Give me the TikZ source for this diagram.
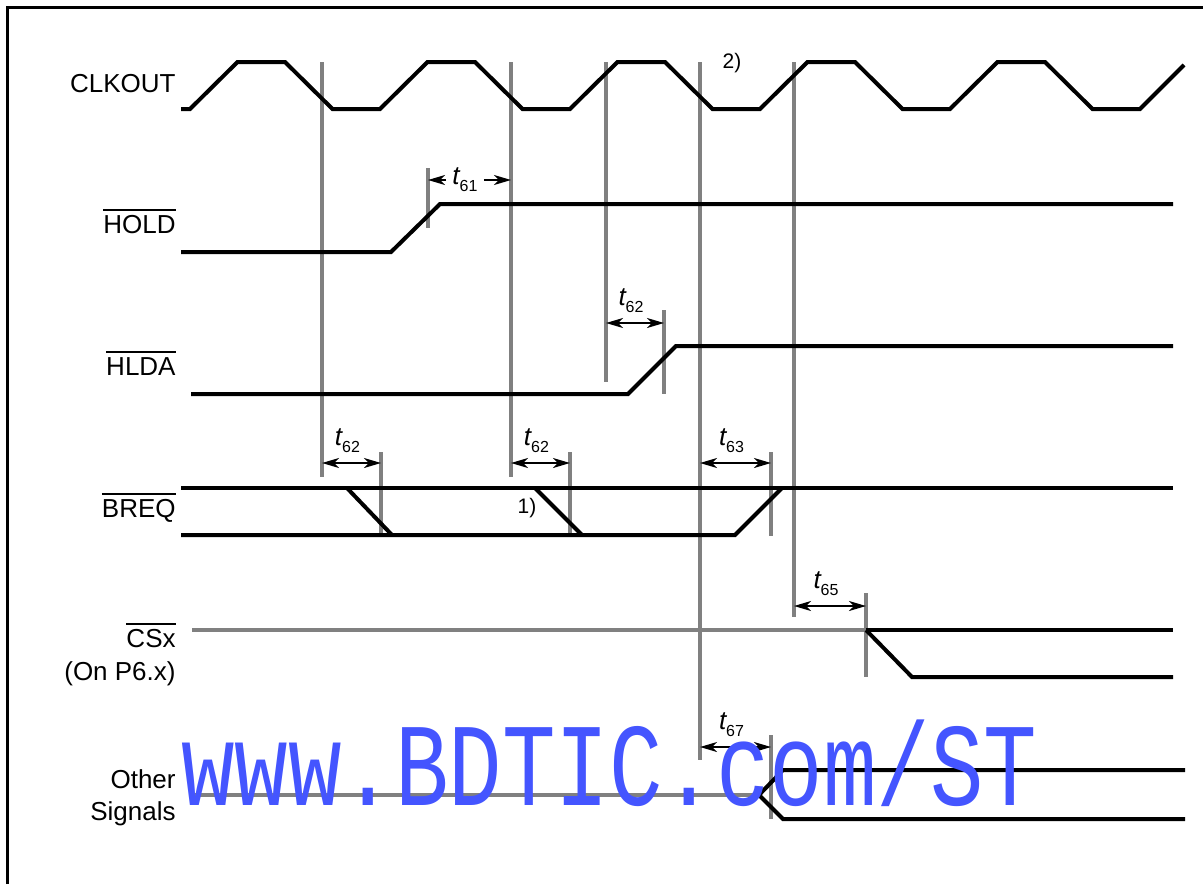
\documentclass[tikz,border=0pt]{standalone}
\usepackage{fontspec}
\setmainfont{Liberation Sans}
\newfontfamily\wmfont{Liberation Mono}
\usetikzlibrary{arrows.meta}
\definecolor{wmblue}{RGB}{68,85,255}
\definecolor{guide}{RGB}{128,128,128}
\newlength\barw
\newcommand{\barsig}[1]{\settowidth{\barw}{#1}\rlap{\rule[11pt]{\barw}{1pt}}#1}
\newcommand{\tlab}[1]{{\itshape t}{\fontsize{8}{9}\selectfont\raisebox{-3.5pt}{#1}}}
\begin{document}
\begin{tikzpicture}[x=0.5pt,y=-0.5pt,>={Stealth[length=8.5pt,width=5pt,inset=2.5pt]},
  sig/.style={line width=2pt},
  idle/.style={line width=2pt,color=guide},
  guideline/.style={line width=1.6pt,color=guide},
  dim/.style={line width=0.9pt},
  lbl/.style={font=\fontsize{13}{15}\selectfont,inner sep=0pt,anchor=base east},
  tl/.style={font=\fontsize{13}{15}\selectfont,inner sep=3pt}]
  \useasboundingbox (0,0) rectangle (1203,884);
  \draw[line width=1.5pt] (7,884) -- (7,7) -- (1203,7);
  % signal names
  \node[lbl] (clk) at (176,92) {CLKOUT};
  \node[lbl] (hold) at (176,233) {\barsig{HOLD}};
  \node[lbl] (hlda) at (176,375) {\barsig{HLDA}};
  \node[lbl] (breq) at (176,517) {\barsig{BREQ}};
  \node[lbl] (csx) at (176,647) {\barsig{CSx}};
  \node[lbl] (csxp) at (176,680) {(On P6.x)};
  \node[lbl] (oth) at (176,788) {Other};
  \node[lbl] (othb) at (176,820) {Signals};
  % guide lines
  \foreach \gx/\ya/\yb in {322/62/477,511/62/477,606/62/382,700/62/760,794/62/617,
      428/168/228,664/310/394,381/452/533,570/452/533,771/452/536,866/593/677,771/735/819}
    \draw[guideline] (\gx,\ya) -- (\gx,\yb);
  % waveforms
  \draw[sig] (181,109) -- (190,109)
    \foreach \k in {0,...,4} { -- ++(47.5,-47) -- ++(47.5,0) -- ++(47.5,47) -- ++(47.5,0) }
    -- ++(44,-44);
  \draw[sig] (181,252) -- (391,252) -- (440,204) -- (1173,204);
  \draw[sig] (191,394) -- (628,394) -- (676,346) -- (1173,346);
  \draw[sig] (181,488) -- (1173,488);
  \draw[sig] (181,535) -- (735,535) -- (782,488);
  \draw[sig] (347,488) -- (392,535);
  \draw[sig] (535,488) -- (582,535);
  \draw[idle] (192,630) -- (866,630);
  \draw[sig] (866,630) -- (1173,630);
  \draw[sig] (866,630) -- (912,677) -- (1173,677);
  \draw[idle] (191,795) -- (759,795);
  \draw[sig] (759,795) -- (783,770) -- (1185,770);
  \draw[sig] (759,795) -- (783,819) -- (1185,819);
  % timing marks
  \node[tl] (t61) at (465,180) {\tlab{61}};
  \draw[->,dim] (t61.west) -- (428,180);
  \draw[->,dim] (t61.east) -- (511,180);
  \foreach \xa/\xb/\yy/\lab [count=\i] in {606/664/323/62,322/381/463/62,511/570/463/62,
      700/771/463/63,794/866/606/65,700/771/747/67} {
    \draw[<->,dim] (\xa,\yy) -- (\xb,\yy);
    \node[tl] (dim\i) at ({(\xa+\xb)/2-4},{\yy-22}) {\tlab{\lab}};
  }
  \node[font=\fontsize{10.5}{12}\selectfont] (n1) at (527,508) {1)};
  \node[font=\fontsize{10.5}{12}\selectfont] (n2) at (732,63) {2)};
  % watermark
  \node[anchor=base west,inner sep=0pt,text=wmblue] (wm) at (181,805)
    {\resizebox{428pt}{39pt}{\wmfont\smash{www.BDTIC.com/ST}\rule{0pt}{0.66em}}};
\end{tikzpicture}
\end{document}
